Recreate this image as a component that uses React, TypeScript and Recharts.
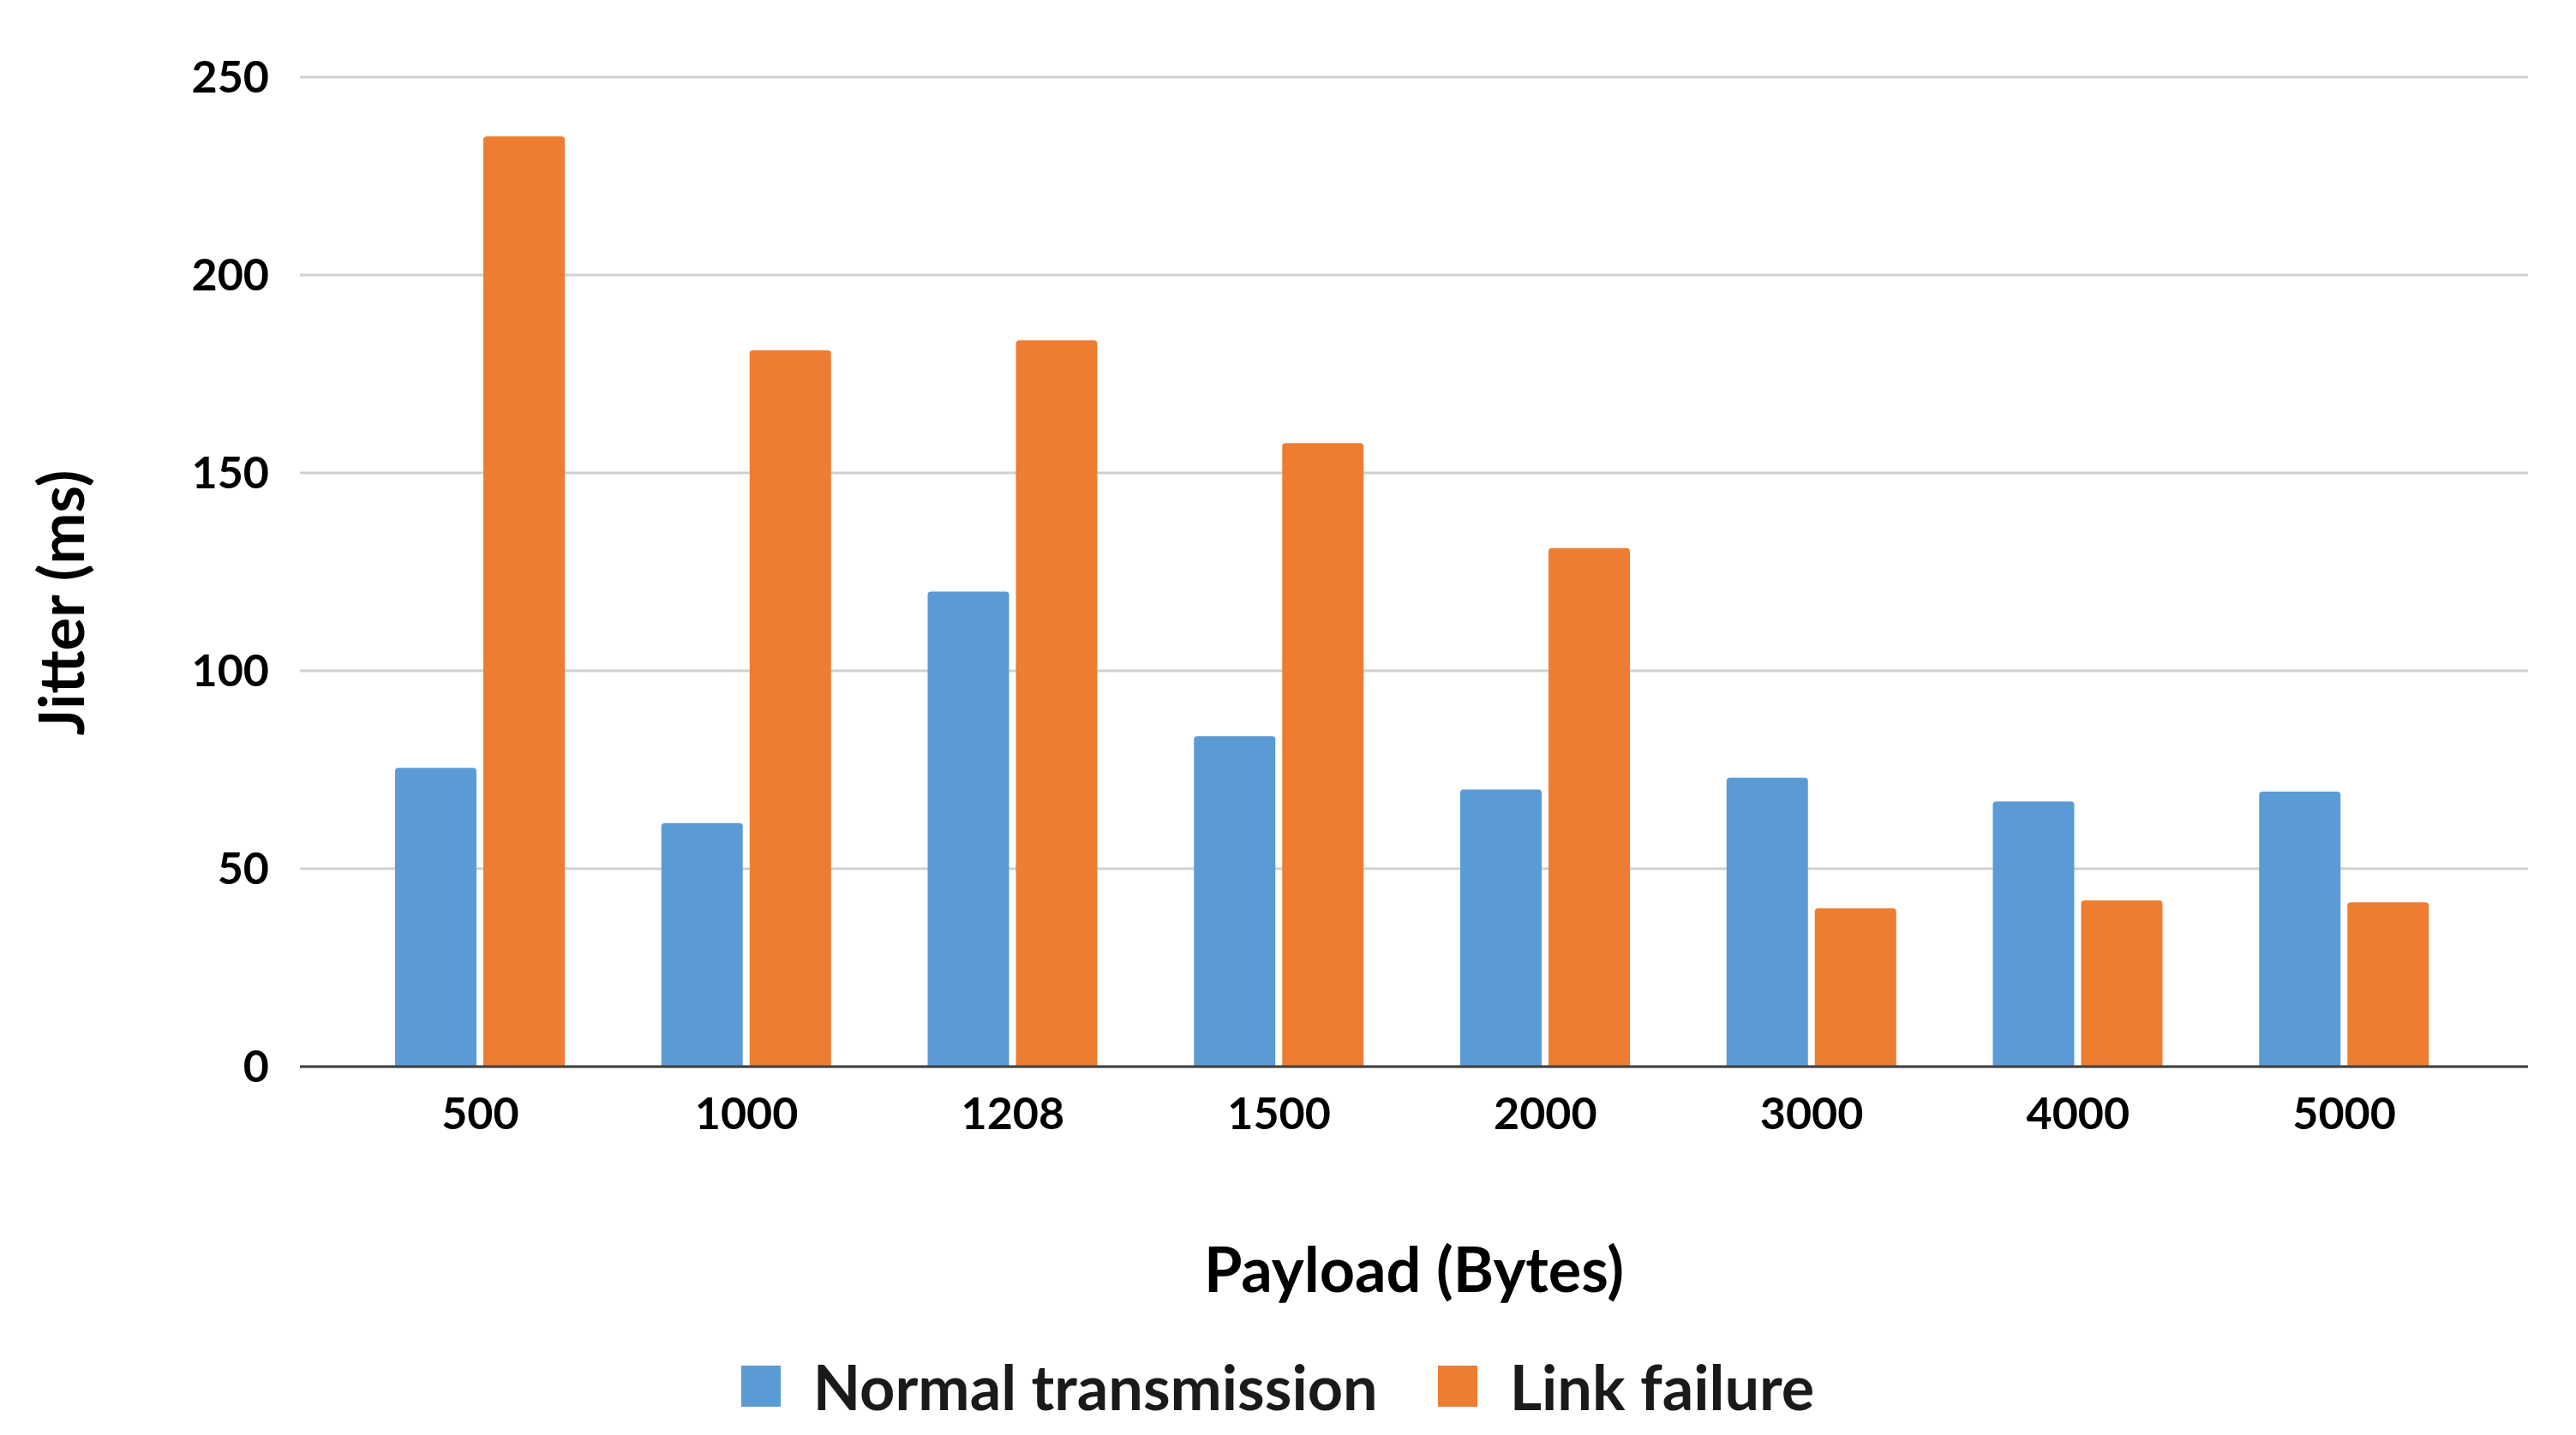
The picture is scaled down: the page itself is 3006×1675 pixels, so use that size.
import React from 'react';
import {
  Bar,
  BarChart,
  CartesianGrid,
  Label,
  Legend,
  XAxis,
  YAxis,
} from 'recharts';

const payloads = ['500', '1000', '1208', '1500', '2000', '3000', '4000', '5000'];
const normalJitter = [75.5, 61.5, 120, 83.5, 70, 73, 67, 69.5];
const linkFailureJitter = [235, 181, 183.5, 157.5, 131, 40, 42, 41.5];
const yTicks = [0, 50, 100, 150, 200, 250];
const seriesOrder = ['Normal transmission', 'Link failure'];

const BLUE = '#5B9BD5';
const ORANGE = '#ED7D31';
const FONT = 'Lato, "Open Sans", sans-serif';

const data = payloads.map((p, i) => ({
  payload: p,
  normal: normalJitter[i],
  linkFailure: linkFailureJitter[i],
}));

const YTitle = ({ viewBox }: any) => {
  const x = viewBox.x + 62;
  const y = viewBox.y + viewBox.height / 2 + 36;
  return (
    <text
      x={x}
      y={y}
      transform={`rotate(-90, ${x}, ${y})`}
      textAnchor="middle"
      dominantBaseline="central"
      fontFamily={FONT}
      fontWeight={700}
      fontSize={72}
      fill="#000"
    >
      Jitter (ms)
    </text>
  );
};

const LegendBox = ({ payload }: any) => {
  const items = [...(payload || [])].sort(
    (a: any, b: any) => seriesOrder.indexOf(a.value) - seriesOrder.indexOf(b.value)
  );
  return (
    <div
      style={{
        display: 'flex',
        justifyContent: 'center',
        alignItems: 'center',
        fontFamily: FONT,
        fontWeight: 700,
        fontSize: 72,
        color: '#1a1a1a',
        paddingLeft: 24,
      }}
    >
      {items.map((entry: any, i: number) => (
        <div
          key={entry.value}
          style={{ display: 'flex', alignItems: 'center', marginLeft: i ? 70 : 0 }}
        >
          <span
            style={{
              display: 'inline-block',
              width: 46,
              height: 48,
              background: entry.color,
              marginRight: 38,
            }}
          />
          <span>{entry.value}</span>
        </div>
      ))}
    </div>
  );
};

const App = () => {
  return (
    <BarChart
      width={2990}
      height={1659}
      data={data}
      margin={{ top: 82, right: 48, bottom: 12, left: 0 }}
      barGap={8}
      barSize={95}
    >
      <CartesianGrid vertical={false} stroke="#d0d0d0" strokeWidth={3} />
      <XAxis
        dataKey="payload"
        height={330}
        padding={{ left: 55, right: 59 }}
        axisLine={{ stroke: '#404040', strokeWidth: 3 }}
        tickLine={false}
        tickSize={0}
        tickMargin={36}
        tick={{ fill: '#000', fontFamily: FONT, fontWeight: 700, fontSize: 52 }}
      >
        <Label
          value="Payload (Bytes)"
          position="insideTop"
          offset={212}
          style={{ fill: '#000', fontFamily: FONT, fontWeight: 700, fontSize: 72 }}
        />
      </XAxis>
      <YAxis
        width={342}
        domain={[0, 250]}
        ticks={yTicks}
        axisLine={false}
        tickLine={false}
        tickSize={0}
        tickMargin={36}
        tick={{ fill: '#000', fontFamily: FONT, fontWeight: 700, fontSize: 52 }}
      >
        <Label content={<YTitle />} />
      </YAxis>
      <Legend verticalAlign="bottom" height={80} content={<LegendBox />} />
      <Bar
        dataKey="normal"
        name="Normal transmission"
        fill={BLUE}
        radius={[4, 4, 0, 0]}
        isAnimationActive={false}
      />
      <Bar
        dataKey="linkFailure"
        name="Link failure"
        fill={ORANGE}
        radius={[4, 4, 0, 0]}
        isAnimationActive={false}
      />
    </BarChart>
  );
};

export default App;
